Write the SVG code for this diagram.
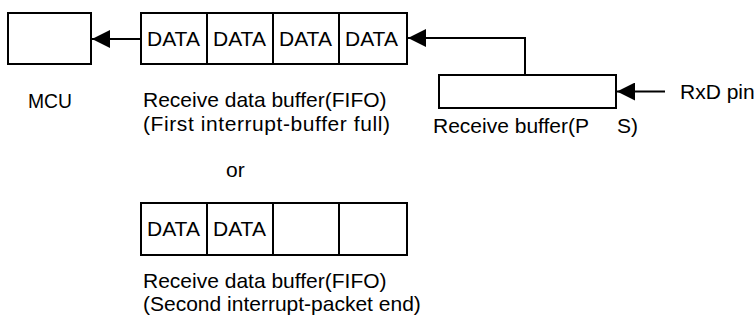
<svg xmlns="http://www.w3.org/2000/svg" width="754" height="320" viewBox="0 0 754 320">
<style>
.box{fill:#fff;stroke:#000;stroke-width:2}
.ln{fill:none;stroke:#000;stroke-width:2}
.t{font-family:"Liberation Sans",Arial,sans-serif;font-size:21px;fill:#000}
</style>
<defs>
<marker id="ah" markerUnits="userSpaceOnUse" markerWidth="19" markerHeight="18" refX="18" refY="9" orient="auto">
<path d="M0,0 L18,9 L0,18 z" fill="#000"/>
</marker>
</defs>
<rect width="754" height="320" fill="#fff"/>
<g id="mcu">
<rect class="box" x="8" y="13" width="83" height="51"/>
<text class="t" x="28" y="108" textLength="44" lengthAdjust="spacingAndGlyphs">MCU</text>
</g>
<g id="fifo1">
<rect class="box" x="141" y="13" width="266" height="51"/>
<path class="ln" d="M207,13V64M273,13V64M339,13V64"/>
<text class="t" x="147" y="46">DATA</text>
<text class="t" x="213" y="46">DATA</text>
<text class="t" x="279" y="46">DATA</text>
<text class="t" x="345" y="46">DATA</text>
<text class="t" x="143" y="107">Receive data buffer(FIFO)</text>
<text class="t" x="143" y="131" textLength="247" lengthAdjust="spacing">(First interrupt-buffer full)</text>
</g>
<g id="rxbuf">
<rect class="box" x="439" y="75" width="177" height="33"/>
<text class="t" x="433" y="133">Receive buffer(P<tspan x="617">S)</tspan></text>
</g>
<g id="rxd">
<text class="t" x="680" y="99">RxD pin</text>
</g>
<g id="or">
<text class="t" x="226" y="177">or</text>
</g>
<g id="fifo2">
<rect class="box" x="141" y="203" width="266" height="52"/>
<path class="ln" d="M207,203V255M273,203V255M339,203V255"/>
<text class="t" x="147" y="236">DATA</text>
<text class="t" x="213" y="236">DATA</text>
<text class="t" x="143" y="288">Receive data buffer(FIFO)</text>
<text class="t" x="143" y="311">(Second interrupt-packet end)</text>
</g>
<g id="connectors">
<path class="ln" d="M141,39H92" marker-end="url(#ah)"/>
<path class="ln" d="M525,75V38H408" marker-end="url(#ah)"/>
<path class="ln" d="M665,91.5H617" marker-end="url(#ah)"/>
</g>
</svg>
